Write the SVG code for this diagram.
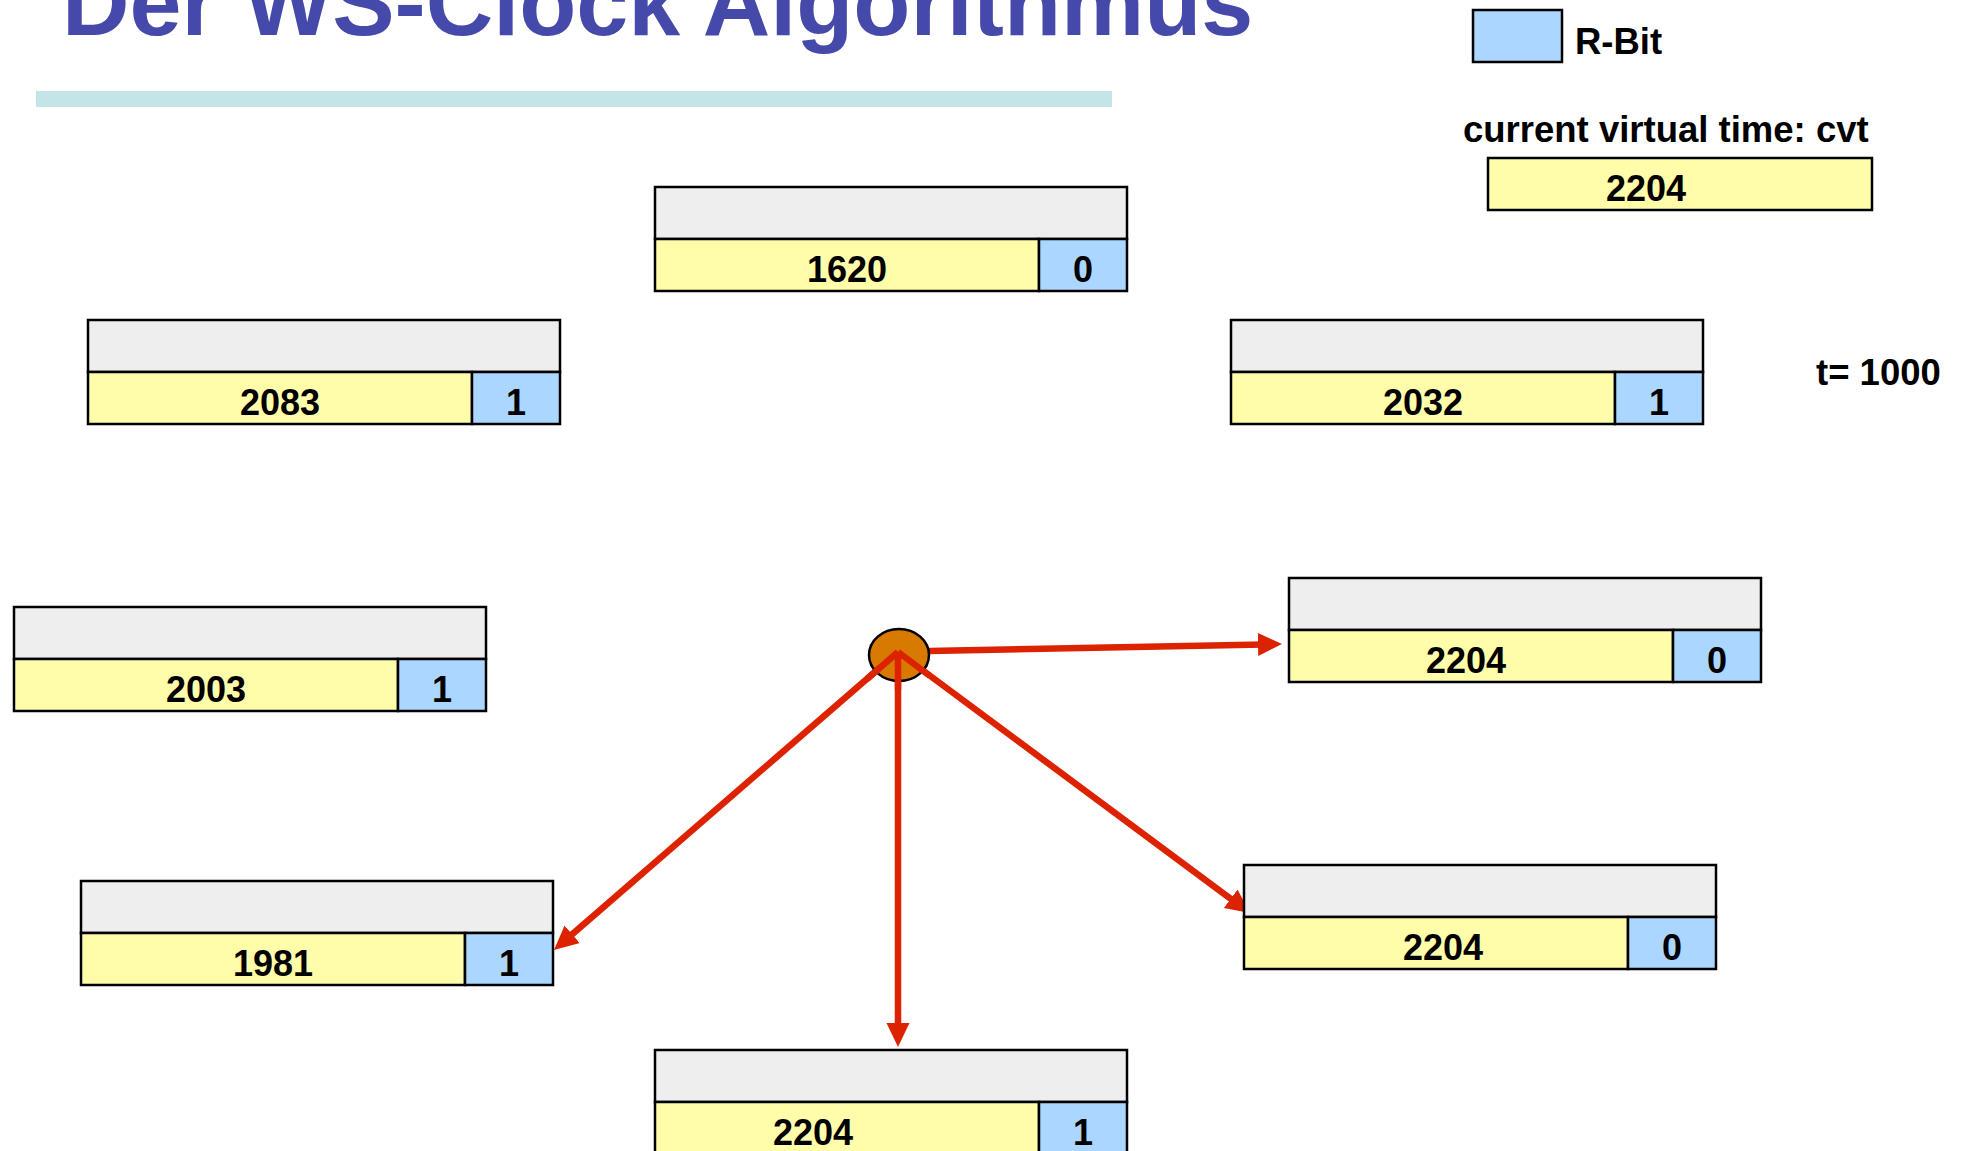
<svg xmlns="http://www.w3.org/2000/svg" width="1961" height="1151" viewBox="0 0 1961 1151">
<style>
.t{font-family:"Liberation Sans",Arial,sans-serif;font-weight:bold;fill:#000;font-size:36px}
.lab{font-size:36.5px}
.title{font-family:"Liberation Sans",Arial,sans-serif;font-weight:bold;fill:#4549AA;font-size:93.5px}
.g{fill:#EEEEEE;stroke:#000;stroke-width:2.5}
.y{fill:#FFFCAA;stroke:#000;stroke-width:2.5}
.b{fill:#AAD6FF;stroke:#000;stroke-width:2.5}
.c{text-anchor:middle}
.arr{stroke:#DD2200;stroke-width:6.5;fill:none;marker-end:url(#ah)}
</style>
<defs>
<marker id="ah" markerUnits="userSpaceOnUse" markerWidth="26" markerHeight="24" refX="6" refY="11.5" orient="auto" viewBox="0 0 26 24">
<path d="M0,0 L24,11.5 L0,23 z" fill="#DD2200"/>
</marker>
</defs>
<g id="title">
<text class="title" x="62" y="35">Der WS-Clock Algorithmus</text>
<rect x="36" y="91" width="1076" height="16" fill="#C4E5E8"/>
</g>
<g id="legend">
<rect class="b" x="1473" y="10" width="89" height="52"/>
<text class="t lab" x="1575" y="54">R-Bit</text>
</g>
<g id="cvt">
<text class="t lab" x="1463" y="142">current virtual time: cvt</text>
<rect class="y" x="1488" y="158" width="384" height="52"/>
<text class="t" x="1606" y="201">2204</text>
</g>
<g id="time">
<text class="t lab" x="1816" y="385">t= 1000</text>
</g>
<g id="connectors">
<path class="arr" d="M929,651 L1264,644.4"/>
<path class="arr" d="M898,652 L898,1029"/>
<path class="arr" d="M898,652 L1235.5,902.3"/>
<path class="arr" d="M898,652 L567.6,938.2"/>
</g>
<g id="hand">
<ellipse cx="899" cy="655" rx="30" ry="26" fill="#D97A00" stroke="#000" stroke-width="2.5"/>
<path d="M898,652 L898,690 M898,652 L867,679 M898,652 L930,676" stroke="#DD2200" stroke-width="6.5"/>
</g>
<g id="page-1620" transform="translate(655,187)">
<rect class="g" x="0" y="0" width="472" height="52"/><rect class="y" x="0" y="52" width="384" height="52"/><rect class="b" x="384" y="52" width="88" height="52"/>
<text class="t c" x="192" y="95">1620</text><text class="t c" x="428" y="95">0</text>
</g>
<g id="page-2083" transform="translate(88,320)">
<rect class="g" x="0" y="0" width="472" height="52"/><rect class="y" x="0" y="52" width="384" height="52"/><rect class="b" x="384" y="52" width="88" height="52"/>
<text class="t c" x="192" y="95">2083</text><text class="t c" x="428" y="95">1</text>
</g>
<g id="page-2032" transform="translate(1231,320)">
<rect class="g" x="0" y="0" width="472" height="52"/><rect class="y" x="0" y="52" width="384" height="52"/><rect class="b" x="384" y="52" width="88" height="52"/>
<text class="t c" x="192" y="95">2032</text><text class="t c" x="428" y="95">1</text>
</g>
<g id="page-2003" transform="translate(14,607)">
<rect class="g" x="0" y="0" width="472" height="52"/><rect class="y" x="0" y="52" width="384" height="52"/><rect class="b" x="384" y="52" width="88" height="52"/>
<text class="t c" x="192" y="95">2003</text><text class="t c" x="428" y="95">1</text>
</g>
<g id="page-2204-right" transform="translate(1289,578)">
<rect class="g" x="0" y="0" width="472" height="52"/><rect class="y" x="0" y="52" width="384" height="52"/><rect class="b" x="384" y="52" width="88" height="52"/>
<text class="t c" x="177" y="95">2204</text><text class="t c" x="428" y="95">0</text>
</g>
<g id="page-2204-lowright" transform="translate(1244,865)">
<rect class="g" x="0" y="0" width="472" height="52"/><rect class="y" x="0" y="52" width="384" height="52"/><rect class="b" x="384" y="52" width="88" height="52"/>
<text class="t c" x="199" y="95">2204</text><text class="t c" x="428" y="95">0</text>
</g>
<g id="page-1981" transform="translate(81,881)">
<rect class="g" x="0" y="0" width="472" height="52"/><rect class="y" x="0" y="52" width="384" height="52"/><rect class="b" x="384" y="52" width="88" height="52"/>
<text class="t c" x="192" y="95">1981</text><text class="t c" x="428" y="95">1</text>
</g>
<g id="page-2204-bottom" transform="translate(655,1050)">
<rect class="g" x="0" y="0" width="472" height="52"/><rect class="y" x="0" y="52" width="384" height="52"/><rect class="b" x="384" y="52" width="88" height="52"/>
<text class="t c" x="158" y="95">2204</text><text class="t c" x="428" y="95">1</text>
</g>
</svg>
